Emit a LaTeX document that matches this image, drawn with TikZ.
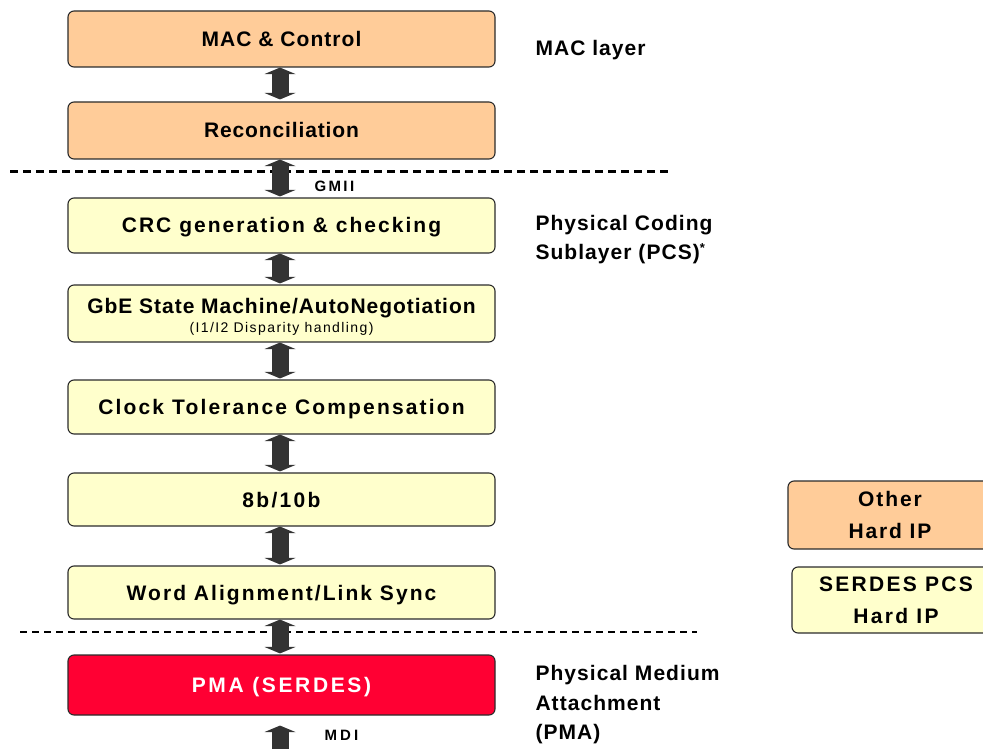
\documentclass[tikz,border=0pt]{standalone}
\usepackage{fontspec}
\setmainfont{Liberation Sans}
\usetikzlibrary{arrows.meta,calc}

\definecolor{macfill}{HTML}{FFCC99}
\definecolor{pcsfill}{HTML}{FFFFCC}
\definecolor{pmafill}{HTML}{FF0033}
\definecolor{edge}{HTML}{2B2B2B}
\definecolor{linkgray}{HTML}{333333}

\begin{document}
\begin{tikzpicture}[x=1pt,y=-1pt,
  % tracked bold text, argument = letter spacing in percent of the font size
  boxtext/.style={font=\fontsize{21}{26}\selectfont\bfseries\addfontfeature{LetterSpace=#1}},
  lbltext/.style={font=\fontsize{21}{29.5}\selectfont\bfseries\addfontfeature{LetterSpace=5}},
  layerbox/.style={draw=edge, line width=1.1pt, rounded corners=6pt,
    minimum width=427pt, inner sep=0pt, text height=15pt, text depth=0pt},
  macbox/.style={layerbox, fill=macfill},
  pcsbox/.style={layerbox, fill=pcsfill},
  pmabox/.style={layerbox, fill=pmafill, text=white},
  sidebox/.style={draw=edge, line width=1.1pt, rounded corners=6pt, inner sep=0pt,
    align=center},
  link/.style={draw=linkgray, line width=17pt,
    {Triangle[width=31pt,length=6.5pt,line width=0pt]}-{Triangle[width=31pt,length=6.5pt,line width=0pt]}},
  gmiidash/.style={line width=3pt, dash pattern=on 8pt off 5pt},
  pmadash/.style={line width=1.4pt, dash pattern=on 7pt off 5pt},
  tag/.style={font=\fontsize{15}{18}\selectfont\bfseries\addfontfeature{LetterSpace=#1}, anchor=west}
]
\useasboundingbox (0,0) rectangle (983,749);

% layer boundaries
\coordinate (gmiiL) at (10,172);
\coordinate (gmiiR) at (672,172);
\coordinate (pmaL)  at (20,632);
\coordinate (pmaR)  at (697,632);
\draw[gmiidash] (gmiiL) -- (gmiiR);
\draw[pmadash]  (pmaL) -- (pmaR);

% protocol stack
\node[macbox, minimum height=56pt, boxtext=5] (mac) at (281.5,39) {MAC \& Control};
\node[macbox, minimum height=57pt, boxtext=4.2] (rec) at (281.5,130.5) {Reconciliation};
\node[pcsbox, minimum height=55pt, boxtext=9.7] (crc) at (281.5,225.5) {CRC generation \& checking};
\node[pcsbox, minimum height=57pt] (gbe) at (281.5,313.5) {};
\node[boxtext=4.6, text height=15pt, text depth=0pt] (gbemain) at ($(gbe.center)+(0,-8)$) {GbE State Machine/AutoNegotiation};
\node[font=\fontsize{14}{16}\selectfont\addfontfeature{LetterSpace=10}] (gbesub) at ($(gbe.center)+(0,15.5)$) {(I1/I2 Disparity handling)};
\node[pcsbox, minimum height=54pt, boxtext=10.3] (ctc) at (281.5,407) {Clock Tolerance Compensation};
\node[pcsbox, minimum height=53pt, boxtext=11] (enc) at (281.5,499.5) {8b/10b};
\node[pcsbox, minimum height=53pt, boxtext=9.7] (wal) at (281.5,592.5) {Word Alignment/Link Sync};
\node[pmabox, minimum height=60pt, boxtext=12.6] (pma) at (281.5,685) {PMA (SERDES)};
\coordinate (mdiend) at ($(pma.south)+(-1.5,50)$);

% connectors between the layers
\draw[link] ($(mac.south)+(-1.5,0)$) -- ($(rec.north)+(-1.5,-2)$);
\draw[link] ($(rec.south)+(-1.5,0)$) -- ($(crc.north)+(-1.5,-1)$);
\draw[link] ($(crc.south)+(-1.5,0)$) -- ($(gbe.north)+(-1.5,-1)$);
\draw[link] ($(gbe.south)+(-1.5,0)$) -- ($(ctc.north)+(-1.5,-1)$);
\draw[link] ($(ctc.south)+(-1.5,0)$) -- ($(enc.north)+(-1.5,-1)$);
\draw[link] ($(enc.south)+(-1.5,0)$) -- ($(wal.north)+(-1.5,-1)$);
\draw[link] ($(wal.south)+(-1.5,0)$) -- ($(pma.north)+(-1.5,-1)$);
\draw[link] ($(pma.south)+(-1.5,10)$) -- (mdiend);

% interface names
\node[tag=16] (gmii) at (311,186) {GMII};
\node[tag=21] (mdi) at (321,735) {MDI};

% layer names
\node[lbltext, anchor=west] (maclbl) at (532,50) {MAC layer};
\node[lbltext, anchor=west, align=left] (pcslbl) at (532,239.5)
  {Physical Coding\\Sublayer (PCS)\textsuperscript{\fontsize{13}{13}\selectfont *}};
\node[lbltext, anchor=west, align=left] (pmalbl) at (532,705)
  {Physical Medium\\Attachment\\(PMA)};

% legend
\node[sidebox, fill=macfill, minimum width=204pt, minimum height=68pt,
  font=\fontsize{21}{32}\selectfont\bfseries\addfontfeature{LetterSpace=9}] (otherip) at (890,515)
  {Other\\Hard IP};
\node[sidebox, fill=pcsfill, minimum width=208pt, minimum height=66pt,
  font=\fontsize{21}{32}\selectfont\bfseries\addfontfeature{LetterSpace=11}] (serdesip) at (896,600)
  {SERDES PCS\\Hard IP};
\end{tikzpicture}
\end{document}
